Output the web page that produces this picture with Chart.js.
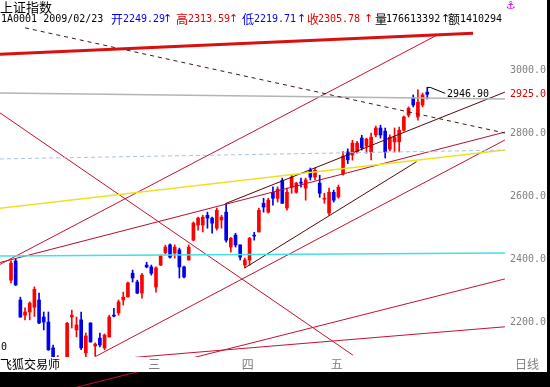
<!DOCTYPE html>
<html><head><meta charset="utf-8">
<script src="https://cdn.jsdelivr.net/npm/chart.js@4"></script>
<style>html,body{margin:0;padding:0;background:#000;}canvas{display:block;}</style>
</head><body>
<canvas id="c" width="550" height="387"></canvas>
<script>
// ---- candle data ----
const openP  = [2335,2396,2272,2224,2234,2249.29,2272,2218,2202,2120,2060,2050,2083,2218,2177,2209,2104,2199,2126,2151,
                2120,2155,2224,2231,2272,2282,2357,2329,2294,2383,2377,2313,2383,2422,2447,2421,2431,2377,2399,2462,
                2510,2510,2541,2532,2500,2526,2551,2440,2478,2447,2383,2399,2478,2488,2579,2551,2614,2595,2652,2564,
                2630,2614,2646,2627,2684,2662,2643,2592,2548,2614,2599,2672,2742,2732,2742,2786,2761,2742,2796,2818,
                2808,2751,2774,2774,2811,2859,2913,2853,2891,2932];
const highP  = [2396,2402,2281,2247,2266,2313.59,2294,2234,2234,2129,2096,2082,2201,2240,2218,2234,2167,2200,2136,2167,
                2164,2224,2246,2272,2297,2329,2367,2335,2357,2392,2383,2377,2415,2446,2450,2447,2437,2380,2447,2520,
                2535,2541,2551,2535,2564,2541,2579,2471,2484,2447,2405,2471,2487,2564,2595,2595,2631,2631,2659,2627,
                2669,2646,2659,2659,2691,2691,2668,2611,2627,2621,2637,2743,2752,2779,2776,2795,2786,2802,2824,2827,
                2818,2796,2818,2821,2856,2885,2923,2939,2929,2946.9];
const lowP   = [2326,2318,2217,2209,2209,2219.71,2197,2177,2112,2065,2045,2037,2075,2183,2155,2114,2090,2138,2094,2123,
                2114,2154,2218,2224,2256,2281,2329,2292,2278,2374,2351,2297,2381,2418,2405,2405,2342,2342,2399,2460,
                2494,2488,2500,2484,2494,2500,2456,2424,2440,2399,2374,2383,2462,2488,2551,2548,2573,2583,2579,2557,
                2611,2611,2630,2589,2653,2653,2598,2579,2541,2583,2595,2668,2705,2716,2738,2748,2738,2717,2790,2786,
                2723,2745,2742,2742,2808,2853,2885,2843,2885,2910];
const closeP = [2389,2320,2218,2234,2262,2305.78,2199,2202,2114,2085,2085,2072,2198,2224,2193,2120,2158,2139,2132,2129,
                2161,2218,2221,2266,2281,2326,2342,2294,2351,2377,2357,2374,2412,2440,2408,2440,2377,2345,2440,2516,
                2532,2535,2532,2516,2557,2535,2462,2468,2447,2408,2399,2468,2475,2557,2567,2589,2595,2624,2579,2614,
                2662,2643,2643,2653,2662,2684,2611,2595,2614,2589,2630,2729,2717,2770,2770,2755,2783,2789,2818,2796,
                2742,2789,2789,2811,2853,2881,2891,2900,2923,2925];

// axis ticks and labels
const yTickValues = [2200, 2400, 2600, 2800, 3000];
const xLabelText  = ['三', '四', '五'];
const xLabelIndex = [30, 50, 69];
const lastClose   = 2925.0;
const peakHigh    = 2946.90;

// trend lines drawn on chart: [startIndex, startPrice, endIndex, endPrice]
const lineTop      = [-2.35, 3052, 98.8, 3119];
const lineDashed   = [3.0, 3136, 105.6, 2802];
const lineGray     = [-2.35, 2929, 105.6, 2910];
const lineBlueDash = [-2.35, 2720, 105.6, 2748];
const lineCyan     = [-2.35, 2412, 105.6, 2421];
const lineYellow   = [-2.35, 2563, 105.6, 2748];
const lineFall     = [-2.35, 2866, 73.1, 2097];
const lineRiseA    = [-2.35, 2385, 91.1, 3113];
const lineRiseB    = [-2.35, 2391, 105.6, 2805];
const lineChanUp   = [46, 2579, 105.6, 2932];
const lineChanLow  = [50, 2374, 86.7, 2711];
const lineRiseC    = [18, 2092, 105.6, 2780];
const lineRiseE    = [10.5, 1982, 105.6, 2339];
const lineRiseF    = [26.5, 2090, 105.6, 2187];

const UP = '#ff0000', DOWN = '#0000ee';
const X_MIN = -2.352, X_MAX = 105.62, Y_MIN = 2091.1, Y_MAX = 3224.4;

const idx = openP.map((_, i) => i);
const candleColors = idx.map(i => closeP[i] >= openP[i] ? UP : DOWN);

function seg(a, color, width, dash) {
  return {type: 'line', data: [{x: a[0], y: a[1]}, {x: a[2], y: a[3]}],
    borderColor: color, borderWidth: width, borderDash: dash || [], pointRadius: 0,
    clip: false, order: 0, tension: 0};
}

const overlay = {
  id: 'overlay',
  beforeDraw(chart) {
    const c = chart.ctx;
    c.save();
    c.fillStyle = '#000'; c.fillRect(0, 0, 550, 387);
    c.fillStyle = '#fff'; c.fillRect(0, 0, 547, 372);
    c.restore();
  },
  afterDraw(chart) {
    const c = chart.ctx, xs = chart.scales.x, ys = chart.scales.y;
    c.save();
    // x label strip
    c.fillStyle = '#fff'; c.fillRect(0, 357, 547, 15);
    const cjk = '"Noto Sans CJK SC"', mono = '"DejaVu Sans Mono"';
    c.textBaseline = 'middle'; c.textAlign = 'left';
    c.fillStyle = '#808080'; c.font = '12px ' + cjk;
    xLabelText.forEach((t, k) => c.fillText(t, xs.getPixelForValue(xLabelIndex[k]) - 3, 364));
    c.fillText('日线', 515, 364);
    c.fillStyle = '#000';
    c.fillText('飞狐交易师', 0, 364);
    c.font = '10px ' + mono; c.fillText('0', 1, 347);
    // header
    c.font = '13px ' + cjk; c.fillText('上证指数', 0, 7);
    const parts = [
      [1, '1A0001 2009/02/23', '#000', mono],
      [111, '开', '#0000ee', cjk], [123, '2249.29', '#0000ee', mono], [163, '↑', '#0000ee', 'dv'],
      [176, '高', '#e00000', cjk], [188, '2313.59', '#e00000', mono], [229, '↑', '#e00000', 'dv'],
      [242, '低', '#0000ee', cjk], [254, '2219.71', '#0000ee', mono], [297, '↑', '#0000ee', 'dv'],
      [307, '收', '#e00000', cjk], [318, '2305.78', '#e00000', mono], [364, '↑', '#e00000', 'dv'],
      [375, '量', '#000', cjk], [386, '176613392', '#000', mono], [441, '↑', '#000', 'dv'],
      [448, '额', '#000', cjk], [460, '1410294', '#000', mono]
    ];
    parts.forEach(([x, t, col, f]) => {
      c.fillStyle = col;
      c.font = f === mono ? '10px ' + mono : (f === 'dv' ? '11px "DejaVu Sans"' : '12px ' + cjk);
      c.fillText(t, x, 19.5);
    });
    c.fillStyle = '#d000d0'; c.font = '11px "DejaVu Sans"'; c.fillText('⚓', 506, 6);
    // last close on axis
    c.fillStyle = '#e00000'; c.font = '10px ' + mono;
    c.fillText(lastClose.toFixed(1), 510, ys.getPixelForValue(lastClose));
    // peak marker
    const px = xs.getPixelForValue(89), py = ys.getPixelForValue(peakHigh);
    c.strokeStyle = '#000'; c.lineWidth = 1;
    c.beginPath(); c.moveTo(px, py); c.lineTo(px + 3, py); c.lineTo(px + 18, py + 6); c.stroke();
    c.fillStyle = '#000'; c.fillText(peakHigh.toFixed(2), 447, py + 6.5);
    c.restore();
  }
};

new Chart(document.getElementById('c'), {
  type: 'bar',
  data: {
    datasets: [
      {type: 'bar', data: idx.map(i => ({x: i, y: [lowP[i], highP[i]]})), backgroundColor: candleColors,
       barThickness: 1, grouped: false, minBarLength: 1, clip: 0, order: 2, borderWidth: 0},
      {type: 'bar', data: idx.map(i => ({x: i, y: [openP[i], closeP[i]]})), backgroundColor: candleColors,
       barThickness: 3, grouped: false, minBarLength: 1, clip: 0, order: 1, borderWidth: 0},
      seg(lineTop, '#d81010', 3),
      seg(lineDashed, '#3a1818', 1, [4, 4]),
      seg(lineGray, '#b4b4b4', 1.5),
      seg(lineBlueDash, '#a8c4e0', 1, [4, 3]),
      seg(lineCyan, '#40e0e8', 1.5),
      seg(lineYellow, '#f0e020', 1.5),
      seg(lineFall, '#c81030', 1),
      seg(lineRiseA, '#c81030', 1),
      seg(lineRiseB, '#b01030', 1),
      seg(lineChanUp, '#500808', 1),
      seg(lineChanLow, '#500808', 1),
      seg(lineRiseC, '#c81030', 1),
      seg(lineRiseE, '#c81030', 1),
      seg(lineRiseF, '#c81030', 1)
    ]
  },
  options: {
    responsive: false, animation: false, devicePixelRatio: 1,
    layout: {padding: {left: 0, top: 0, right: 3, bottom: 30}},
    plugins: {legend: {display: false}, tooltip: {enabled: false}},
    scales: {
      x: {type: 'linear', min: X_MIN, max: X_MAX, display: false, offset: false},
      y: {type: 'linear', position: 'right', min: Y_MIN, max: Y_MAX,
          grid: {display: false, drawTicks: false}, border: {display: false},
          afterBuildTicks: s => { s.ticks = yTickValues.map(v => ({value: v})); },
          afterFit: s => { s.width = 42; s.paddingTop = 0; s.paddingBottom = 0; },
          ticks: {color: '#808080', font: {family: 'DejaVu Sans Mono', size: 10}, padding: 5,
                  autoSkip: false, callback: v => Number(v).toFixed(1)}}
    }
  },
  plugins: [overlay]
});
</script>
</body></html>
